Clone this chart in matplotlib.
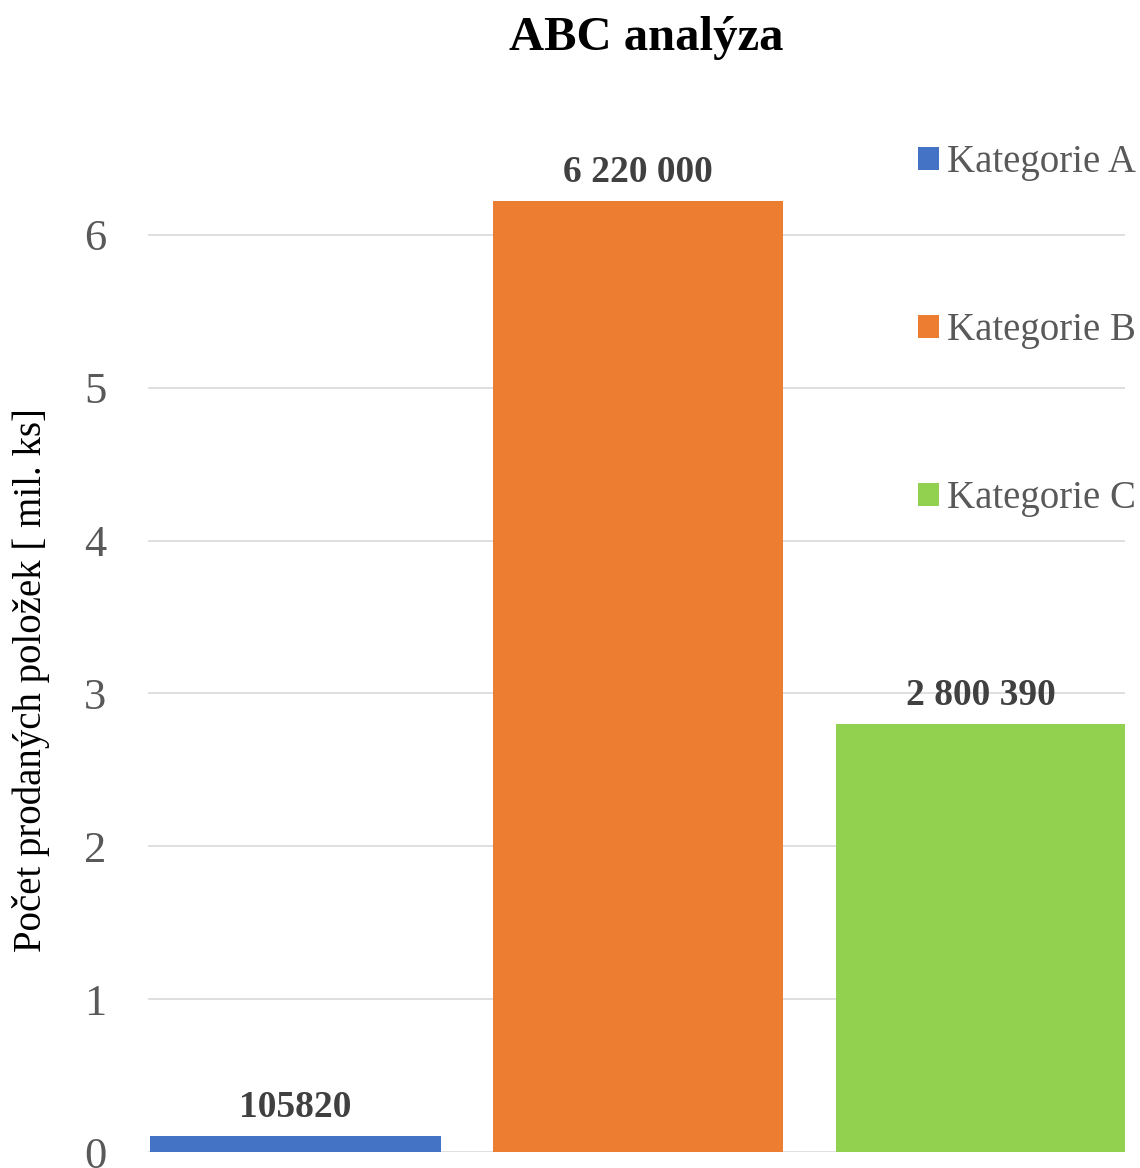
import matplotlib
matplotlib.use("Agg")
import matplotlib.pyplot as plt
from matplotlib.patches import Patch

categories = ["Kategorie A", "Kategorie B", "Kategorie C"]
values_mil = [0.10582, 6.22, 2.80039]
value_labels = ["105820", "6 220 000", "2 800 390"]
colors = ["#4472C4", "#ED7D31", "#92D050"]
yticks = [0, 1, 2, 3, 4, 5, 6]

plt.rcParams['font.family'] = ['Liberation Serif', 'DejaVu Serif']

fig = plt.figure(figsize=(11.4, 11.68), dpi=100)
ax = fig.add_axes([148/1140, 1 - 1152/1168, (1125-148)/1140, (1152-82)/1168])

x = list(range(len(categories)))
bars = ax.bar(x, values_mil, width=0.847, color=colors, zorder=3)
for xi, v, lab in zip(x, values_mil, value_labels):
    ax.annotate(lab, (xi, v), xytext=(0, 8), textcoords='offset points',
                ha='center', va='bottom', fontsize=27, fontweight='bold', color='#404040')

ax.set_xlim(-0.43, 2.42)
ax.set_ylim(0, 7)
ax.set_yticks(yticks)
ax.set_yticklabels([str(t) for t in yticks], fontsize=32, color='#595959')
ax.set_xticks([])
ax.tick_params(axis='y', length=0, pad=30)
ax.grid(axis='y', color='#D9D9D9', linewidth=1.2, zorder=0)
for s in ax.spines.values():
    s.set_visible(False)

ax.set_ylabel("Počet prodaných položek [ mil. ks]", fontsize=28, color='#000000')
ax.yaxis.set_label_coords(-0.1, 0.441)

fig.text(646/1140, 1 - 38/1168, "ABC analýza", ha='center', va='center', fontsize=35, fontweight='bold')

handles = [Patch(facecolor=c) for c in colors]
ax.legend(handles, categories, loc='upper left', bbox_to_anchor=(918/1140, 1 - 144/1168),
          bbox_transform=fig.transFigure, frameon=False, fontsize=28, labelcolor='#595959',
          handlelength=0.55, handleheight=0.55, handletextpad=0.2, labelspacing=3.37,
          borderpad=0, borderaxespad=0)

fig.savefig("out.png", dpi=100)
